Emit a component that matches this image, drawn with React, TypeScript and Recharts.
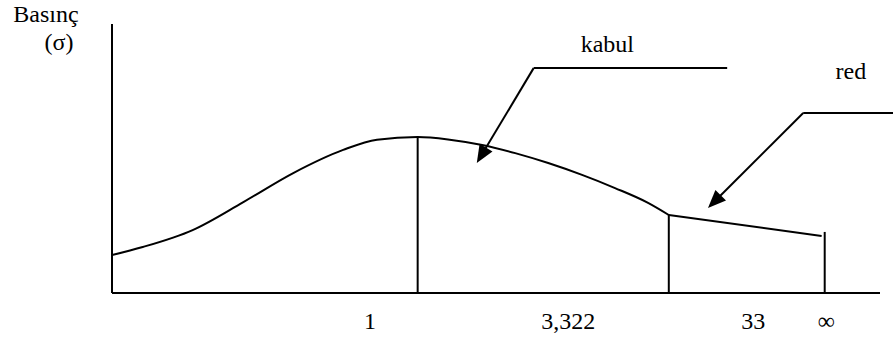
import React from 'react';
import { ComposedChart, Line, XAxis, YAxis, ReferenceLine, ReferenceDot } from 'recharts';

// Curve (acceptance region), abstract units 0..100
const curveX = [0, 4.0, 10.5, 17.1, 23.6, 30.1, 34.5, 39.8, 43.75, 48.2, 52.5, 56.8, 61.2, 65.5, 69.8, 72.5];
const curveY = [14.1, 17.1, 23.4, 33.8, 44.6, 53.2, 57.0, 58.0, 57.1, 55.0, 52.0, 48.3, 43.9, 39.0, 33.5, 29.0];
// Straight tail (rejection region)
const tailX = [72.5, 92.4];
const tailY = [29.0, 21.2];
// Vertical boundaries
const boundX = [39.8, 72.5, 92.8];
const boundTop = [58.0, 29.0, 22.7];
// Axis tick labels
const tickValues = [33.6, 59.4, 83.5, 93.0];
const tickLabels = ['1', '3,322', '33', '∞'];
// Leader arrows
const arrowNames = ['kabul', 'red'];
const arrowElbowX = [54.9, 90.0];
const arrowElbowY = [83.6, 66.9];
const arrowEndX = [80.1, 101.7];
const arrowTipX = [47.5, 77.6];
const arrowTipY = [48.3, 31.6];
// Texts
const textLabels = ['kabul', 'red', 'Basınç', '(σ)'];
const textX = [64.5, 96.2, -8.6, -6.9];
const textY = [89.6, 79.6, 100.7, 90.3];

const curveData = curveX.map((x, i) => ({ x, y: curveY[i] }));
const tailData = tailX.map((x, i) => ({ x, y: tailY[i] }));

const FONT = '"Liberation Serif", "Times New Roman", "DejaVu Serif", serif';

const ArrowShape = (p: any) => {
  const { x1, y1, x2, y2 } = p;
  const dx = x2 - x1;
  const dy = y2 - y1;
  const len = Math.sqrt(dx * dx + dy * dy);
  const ux = dx / len;
  const uy = dy / len;
  const hl = 18;
  const hw = 7.5;
  const bx = x2 - ux * hl;
  const by = y2 - uy * hl;
  const pts = `${x2},${y2} ${bx - uy * hw},${by + ux * hw} ${bx + uy * hw},${by - ux * hw}`;
  return (
    <g>
      <line x1={x1} y1={y1} x2={bx + ux * 2} y2={by + uy * 2} stroke="#000" strokeWidth={2} />
      <polygon points={pts} fill="#000" />
    </g>
  );
};

const TextContent = (text: string) => (props: any) => {
  const vb = props.viewBox || {};
  const cx = (vb.x || 0) + (vb.width || 0) / 2;
  const cy = (vb.y || 0) + (vb.height || 0) / 2;
  return (
    <text x={cx} y={cy} textAnchor="middle" fontFamily={FONT} fontSize={24} fill="#000">
      {text}
    </text>
  );
};

const Tick = (props: any) => {
  const { x, y, payload } = props;
  const i = tickValues.indexOf(payload.value);
  return (
    <text x={x} y={y} dy={17} textAnchor="middle" fontFamily={FONT} fontSize={24} fill="#000">
      {tickLabels[i] ?? ''}
    </text>
  );
};

export default function App() {
  return (
    <div style={{ position: 'absolute', left: 0, top: 0, width: 893, height: 338, background: '#fff' }}>
      <ComposedChart
        width={893}
        height={338}
        margin={{ top: 24, right: 13, left: 102, bottom: 0 }}
      >
        <XAxis
          type="number"
          dataKey="x"
          domain={[0, 100]}
          allowDataOverflow
          ticks={tickValues}
          tickLine={false}
          tickSize={6}
          tickMargin={13}
          height={45}
          axisLine={{ stroke: '#000', strokeWidth: 2 }}
          tick={<Tick />}
          interval={0}
        />
        <YAxis
          type="number"
          domain={[0, 100]}
          allowDataOverflow
          width={10}
          tick={false}
          tickLine={false}
          axisLine={{ stroke: '#000', strokeWidth: 2 }}
        />
        <Line
          data={curveData}
          dataKey="y"
          type="monotone"
          stroke="#000"
          strokeWidth={2}
          dot={false}
          activeDot={false}
          isAnimationActive={false}
        />
        <Line
          data={tailData}
          dataKey="y"
          type="linear"
          stroke="#000"
          strokeWidth={2}
          dot={false}
          activeDot={false}
          isAnimationActive={false}
        />
        {boundX.map((x, i) => (
          <ReferenceLine
            key={'b' + i}
            segment={[{ x, y: 0 }, { x, y: boundTop[i] }]}
            stroke="#000"
            strokeWidth={2}
            ifOverflow="visible"
          />
        ))}
        {arrowNames.map((n, i) => (
          <ReferenceLine
            key={'h' + n}
            segment={[{ x: arrowElbowX[i], y: arrowElbowY[i] }, { x: arrowEndX[i], y: arrowElbowY[i] }]}
            stroke="#000"
            strokeWidth={2}
            ifOverflow="visible"
          />
        ))}
        {arrowNames.map((n, i) => (
          <ReferenceLine
            key={'a' + n}
            segment={[{ x: arrowElbowX[i], y: arrowElbowY[i] }, { x: arrowTipX[i], y: arrowTipY[i] }]}
            ifOverflow="visible"
            shape={ArrowShape}
          />
        ))}
        {textLabels.map((t, i) => (
          <ReferenceDot
            key={'t' + i}
            x={textX[i]}
            y={textY[i]}
            r={1}
            fill="none"
            stroke="none"
            ifOverflow="visible"
            label={{ content: TextContent(t) }}
          />
        ))}
      </ComposedChart>
    </div>
  );
}
